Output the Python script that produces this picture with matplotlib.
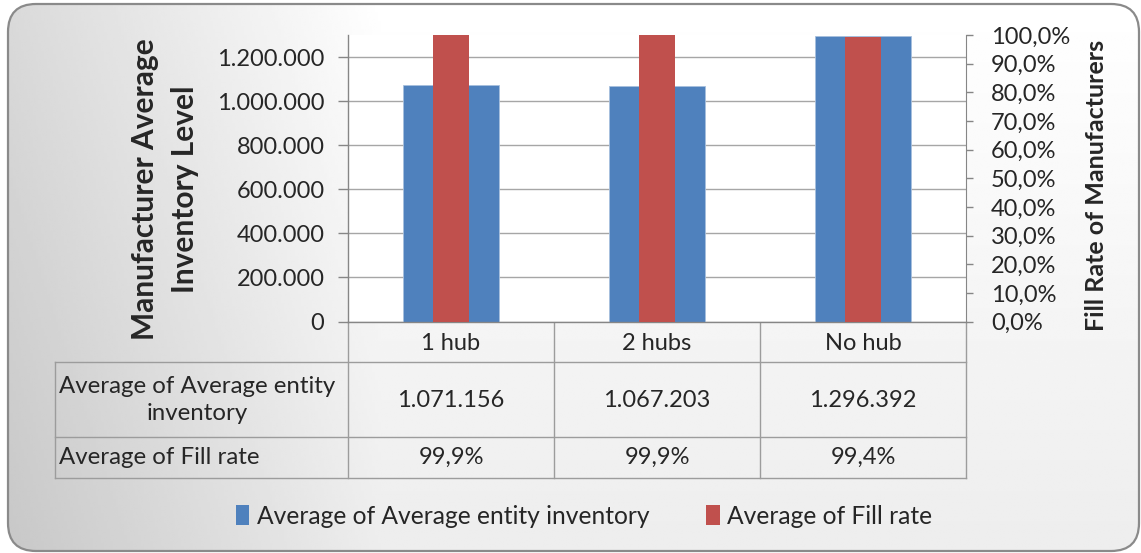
import numpy as np
import matplotlib.pyplot as plt
from matplotlib.patches import FancyBboxPatch, Patch

# ---- data ----
categories = ["1 hub", "2 hubs", "No hub"]
avg_inventory = [1071156, 1067203, 1296392]
fill_rate = [99.9, 99.9, 99.4]          # percent
series_names = ["Average of Average entity inventory", "Average of Fill rate"]
row_labels = ["Average of Average entity\ninventory", "Average of Fill rate"]
inv_ticks = [0, 200000, 400000, 600000, 800000, 1000000, 1200000]
rate_ticks = [0, 10, 20, 30, 40, 50, 60, 70, 80, 90, 100]


def fmt_int(v):
    return f"{int(round(v)):,}".replace(",", ".")


def fmt_pct(v):
    return f"{v:.1f}%".replace(".", ",")


BLUE = "#4f81bd"
RED = "#c0504d"
GRID = "#a6a6a6"
LINE = "#9c9c9c"
TXT = "#262626"

plt.rcParams["font.family"] = ["Lato", "DejaVu Sans"]

W, H = 1141, 553
fig = plt.figure(figsize=(W / 100, H / 100), dpi=100)


def fx(px):
    return px / W


def fy(py):
    return 1 - py / H


# ---- rounded frame with soft grey gradient ----
bg = fig.add_axes([0, 0, 1, 1], zorder=0)
bg.set_xlim(0, W)
bg.set_ylim(H, 0)
bg.axis("off")
frame = FancyBboxPatch((8, 4), 1131, 547, boxstyle="round,pad=0,rounding_size=28",
                       fc="none", ec="#8a8a8a", lw=1.6, zorder=3)
bg.add_patch(frame)
xx, yy = np.meshgrid(np.linspace(0, 1, 400), np.linspace(0, 1, 200))
shade = 1 - 0.15 * np.clip(1 - xx * 3.0, 0, 1) - 0.07 * yy
img = bg.imshow(shade, cmap="gray", vmin=0, vmax=1, extent=(0, W, H, 0),
                aspect="auto", interpolation="bilinear", zorder=1)
img.set_clip_path(frame)

# ---- plot area ----
L, R, T, B = 348, 966, 35, 321.5
ax = fig.add_axes([fx(L), fy(B), (R - L) / W, (B - T) / H], zorder=1)
ax.set_facecolor("white")
x = np.arange(len(categories))
ax.bar(x, avg_inventory, width=0.466, color=BLUE, edgecolor="#a7c0de", lw=0.6, zorder=2)
ax.set_xlim(-0.5, len(categories) - 0.5)
ax.set_ylim(0, 1300000)
ax.set_yticks(inv_ticks)
ax.set_yticklabels([fmt_int(v) for v in inv_ticks])
ax.set_xticks([])
ax.yaxis.grid(True, color=GRID, lw=1.0)
ax.set_axisbelow(True)
for s in ["top", "right"]:
    ax.spines[s].set_visible(False)
for s in ["left", "bottom"]:
    ax.spines[s].set_color("#868686")
    ax.spines[s].set_linewidth(1.0)
ax.tick_params(axis="y", direction="out", length=7, width=1, color="#868686",
               pad=10, labelsize=17, labelcolor=TXT)

ax2 = ax.twinx()
ax2.bar(x, fill_rate, width=0.17, color=RED, zorder=2)
ax2.set_ylim(0, 100)
ax2.set_yticks(rate_ticks)
ax2.set_yticklabels([fmt_pct(v) for v in rate_ticks])
for s in ["top", "left", "bottom"]:
    ax2.spines[s].set_visible(False)
ax2.spines["right"].set_color("#868686")
ax2.tick_params(axis="y", direction="out", length=5, width=1, color="#868686",
                pad=13, labelsize=17, labelcolor=TXT)

# ---- axis titles ----
fig.text(fx(165), fy(189), "Manufacturer Average\nInventory Level", rotation=90,
         ha="center", va="center", fontweight="bold", fontsize=21.5, linespacing=1.5,
         color=TXT)
fig.text(fx(1096), fy(185), "Fill Rate of Manufacturers", rotation=90,
         ha="center", va="center", fontweight="bold", fontsize=18, color=TXT)

# ---- data table under the chart ----
col_edges = np.linspace(L, R, len(categories) + 1)
col_mid = (col_edges[:-1] + col_edges[1:]) / 2
row_edges = [B, 361.7, 436.7, 477.7]
tab_left = 55

for xe in col_edges:
    bg.plot([xe, xe], [B, row_edges[-1]], color=LINE, lw=1.0, zorder=4)
for ye in row_edges[1:]:
    bg.plot([tab_left, R], [ye, ye], color=LINE, lw=1.0, zorder=4)
bg.plot([tab_left, tab_left], [row_edges[1], row_edges[-1]], color=LINE, lw=1.0, zorder=4)

cat_y = (row_edges[0] + row_edges[1]) / 2 + 1.5
for cx, name in zip(col_mid, categories):
    bg.text(cx, cat_y, name, ha="center", va="center", fontsize=17, color=TXT, zorder=5)

row_y = [(row_edges[1] + row_edges[2]) / 2 + 1, (row_edges[2] + row_edges[3]) / 2]
bg.text(59, row_y[0], row_labels[0], ha="left", va="center", multialignment="center",
        fontsize=17.3, linespacing=1.35, color=TXT, zorder=5)
bg.text(59, row_y[1], row_labels[1], ha="left", va="center", fontsize=17.3, color=TXT, zorder=5)
for cx, v in zip(col_mid, avg_inventory):
    bg.text(cx, row_y[0], fmt_int(v), ha="center", va="center", fontsize=17, color=TXT, zorder=5)
for cx, v in zip(col_mid, fill_rate):
    bg.text(cx, row_y[1], fmt_pct(v), ha="center", va="center", fontsize=17, color=TXT, zorder=5)

# ---- legend ----
handles = [Patch(facecolor=BLUE), Patch(facecolor=RED)]
fig.legend(handles, series_names, loc="center", bbox_to_anchor=(fx(584), fy(516)),
           ncol=2, frameon=False, fontsize=17.7, handlelength=0.55, handleheight=0.9,
           handletextpad=0.3, columnspacing=2.3, labelcolor=TXT)

fig.savefig("out.png", dpi=100)
